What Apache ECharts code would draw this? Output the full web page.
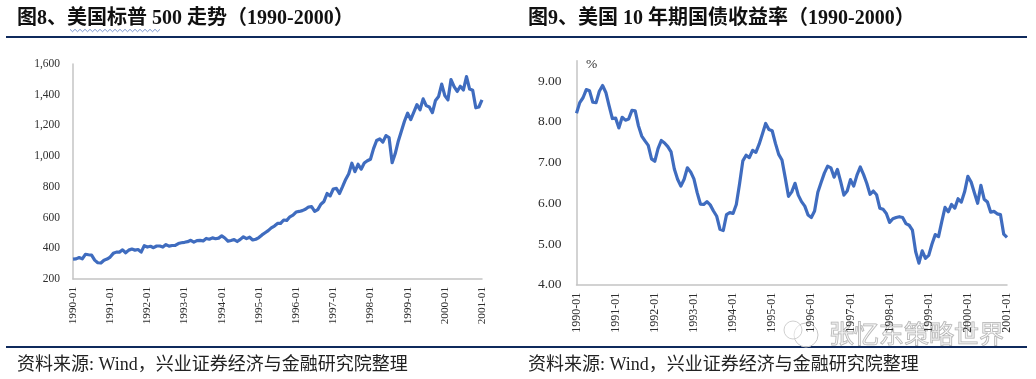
<!DOCTYPE html>
<html><head><meta charset="utf-8">
<style>html,body{margin:0;padding:0;background:#fff}#c{width:1036px;height:379px}</style>
<script src="https://cdn.jsdelivr.net/npm/echarts@6/dist/echarts.min.js"></script>
</head><body><div id="c"></div>
<script>
const spx1990 = [329,331,340,331,361,358,356,323,306,304,322,330];
const spx1991 = [343,367,375,375,390,371,388,395,388,392,375,417];
const spx1992 = [408,413,404,415,415,408,424,414,418,419,431,436];
const spx1993 = [439,443,452,440,450,451,448,464,459,468,462,466];
const spx1994 = [481,467,446,451,457,444,458,475,463,472,454,459];
const spx1995 = [470,487,501,515,533,545,562,562,584,582,605,616];
const spx1996 = [636,640,645,654,669,671,640,652,687,705,757,741];
const spx1997 = [786,790,757,801,848,885,954,899,947,915,955,970];
const spx1998 = [980,1049,1102,1112,1091,1134,1121,957,1017,1099,1164,1229];
const spx1999 = [1280,1238,1286,1335,1302,1373,1329,1320,1283,1363,1389,1469];
const spx2000 = [1394,1366,1499,1452,1421,1455,1431,1518,1437,1429,1315,1320];
const spx2001 = [1366];
const y1990 = [8.21,8.47,8.59,8.79,8.76,8.48,8.47,8.75,8.89,8.72,8.39,8.08];
const y1991 = [8.09,7.85,8.11,8.04,8.07,8.28,8.27,7.90,7.65,7.53,7.42,7.09];
const y1992 = [7.03,7.34,7.54,7.48,7.39,7.26,6.84,6.59,6.42,6.59,6.87,6.77];
const y1993 = [6.60,6.26,5.98,5.97,6.04,5.96,5.81,5.68,5.36,5.33,5.72,5.77];
const y1994 = [5.75,5.97,6.48,7.04,7.18,7.12,7.30,7.25,7.45,7.70,7.96,7.81];
const y1995 = [7.78,7.47,7.20,7.06,6.63,6.17,6.28,6.49,6.20,6.04,5.93,5.71];
const y1996 = [5.65,5.81,6.27,6.51,6.74,6.91,6.87,6.64,6.83,6.53,6.20,6.30];
const y1997 = [6.58,6.42,6.69,6.89,6.71,6.49,6.22,6.30,6.21,5.88,5.85,5.75];
const y1998 = [5.53,5.62,5.65,5.67,5.65,5.50,5.46,5.34,4.81,4.53,4.83,4.65];
const y1999 = [4.72,5.00,5.23,5.18,5.55,5.90,5.79,5.97,5.88,6.11,6.03,6.28];
const y2000 = [6.66,6.52,6.26,6.00,6.44,6.10,6.03,5.78,5.80,5.74,5.72,5.24];
const y2001 = [5.16];
const spx = [].concat(spx1990,spx1991,spx1992,spx1993,spx1994,spx1995,spx1996,spx1997,spx1998,spx1999,spx2000,spx2001);
const yields = [].concat(y1990,y1991,y1992,y1993,y1994,y1995,y1996,y1997,y1998,y1999,y2000,y2001);
const years = [1990,1991,1992,1993,1994,1995,1996,1997,1998,1999,2000,2001];
const months = ['01','02','03','04','05','06','07','08','09','10','11','12'];
const categories = [];
years.forEach(y => months.forEach(m => { if (categories.length < spx.length) categories.push(y + '-' + m); }));
const title1 = '图8、美国标普 500 走势（1990-2000）';
const title2 = '图9、美国 10 年期国债收益率（1990-2000）';
const source = '资料来源: Wind，兴业证券经济与金融研究院整理';
const watermark = '张忆东策略世界';

const serif = '"Liberation Serif","Noto Sans CJK SC",serif';
const NAVY = '#0f2a5c', AX = '#c4c4c4', TXT = '#2e2e2e', LINE = '#3f6cbf';
const xAxis = (idx, fs, off) => ({gridIndex: idx, type:'category', data:categories, boundaryGap:false,
  axisLine:{lineStyle:{color:AX,width:1.5}}, axisTick:{show:false},
  axisLabel:{interval:11, rotate:90, margin:8, fontFamily:serif, fontSize:fs, color:TXT}});
const txt = (x,y,text,size,weight,fill) => ({type:'text', x, y, silent:true, style:{text, fontFamily:serif, fontSize:size, fontWeight:weight||'normal', fill:fill||'#111', textVerticalAlign:'middle'}});
const rule = (x1,x2,y) => ({type:'line', silent:true, shape:{x1,y1:y,x2,y2:y}, style:{stroke:NAVY,lineWidth:2}});
const wave = []; for (let i=0;i<=36;i++) wave.push([70+i*2.5, 30.5+(i%2?1.2:-1.2)]);

const chart = echarts.init(document.getElementById('c'), null, {renderer:'canvas'});
chart.setOption({
  animation:false, backgroundColor:'#fff',
  grid:[
    {left:73, top:64, width:409, height:215},
    {left:576.5, top:60.7, width:430.5, height:224}
  ],
  xAxis:[xAxis(0,11.2), xAxis(1,12)],
  yAxis:[
    {gridIndex:0, type:'value', min:200, max:1600, interval:200, splitLine:{show:false},
     axisLine:{show:true,lineStyle:{color:AX,width:1.5}}, axisTick:{show:false},
     axisLabel:{margin:13, fontFamily:serif, fontSize:11.5, color:TXT,
       formatter:v=>v.toLocaleString('en-US')}},
    {gridIndex:1, type:'value', min:4, max:9.5, interval:1, splitLine:{show:false},
     axisLine:{show:true,lineStyle:{color:AX,width:1.5}}, axisTick:{show:false},
     axisLabel:{margin:15, showMaxLabel:false, fontFamily:serif, fontSize:13.5, color:TXT,
       formatter:v=>v.toFixed(2)}}
  ],
  series:[
    {type:'line', xAxisIndex:0, yAxisIndex:0, data:spx, showSymbol:false, lineStyle:{color:LINE,width:3.2,join:'round'}},
    {type:'line', xAxisIndex:1, yAxisIndex:1, data:yields, showSymbol:false, lineStyle:{color:LINE,width:3.2,join:'round'}}
  ],
  graphic:[
    txt(17,19,title1,20,'bold'), txt(528,19,title2,20,'bold'),
    rule(6,518,37), rule(518,1027,37), rule(6,518,347), rule(518,1027,347),
    {type:'polyline', silent:true, shape:{points:wave}, style:{stroke:'#5b7fc4',lineWidth:0.8,fill:null}},
    txt(586,64,'%',13.5,'normal',TXT),
    txt(17,365,source,18,'normal','#222'), txt(528,365,source,18,'normal','#222'),
    {type:'circle', silent:true, shape:{cx:806,cy:335,r:12}, style:{fill:'rgba(255,255,255,0.5)',stroke:'#c8c8c8',lineWidth:1}},
    {type:'circle', silent:true, shape:{cx:793,cy:330,r:9}, style:{fill:'rgba(255,255,255,0.5)',stroke:'#d0d0d0',lineWidth:1}},
    {type:'text', x:829, y:333, silent:true, style:{text:watermark, fontFamily:'"Noto Sans CJK SC"', fontSize:25, fill:'rgba(255,255,255,0.35)', stroke:'#b0b0b0', lineWidth:1, textVerticalAlign:'middle'}}
  ]
});
</script></body></html>
